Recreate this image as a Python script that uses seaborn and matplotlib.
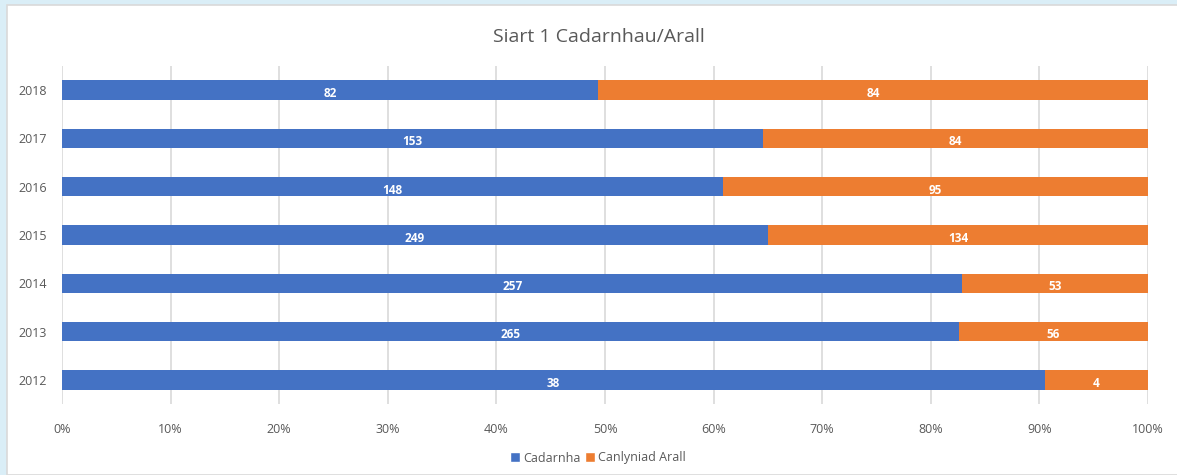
import numpy as np
import pandas as pd
import matplotlib
matplotlib.use("Agg")
import matplotlib.pyplot as plt
import seaborn as sns
from matplotlib.patches import Rectangle, Patch

years = ["2018", "2017", "2016", "2015", "2014", "2013", "2012"]
cadarnha = [82, 153, 148, 249, 257, 265, 38]
arall = [84, 84, 95, 134, 53, 56, 4]

blue = "#4472C4"
orange = "#ED7D31"
grey = "#595959"

sns.set_theme(style="white")
plt.rcParams["font.family"] = ["Open Sans", "DejaVu Sans"]

totals = np.array(cadarnha) + np.array(arall)
df = pd.DataFrame({
    "year": years,
    "cad_pct": np.array(cadarnha) / totals * 100,
    "total_pct": np.full(len(years), 100.0),
})

fig = plt.figure(figsize=(11.77, 4.75), dpi=100)
fig.patch.set_facecolor("#DAEEF7")
# white chart area
fig.add_artist(Rectangle((7 / 1177, 0), 1.0, 1 - 5 / 475, transform=fig.transFigure,
                         facecolor="white", edgecolor="#D9D9D9", linewidth=1.2, zorder=0))

ax = fig.add_axes([62 / 1177, 1 - 404 / 475, (1148 - 62) / 1177, (404 - 66) / 475])
ax.set_facecolor("none")

sns.barplot(data=df, x="total_pct", y="year", order=years, color=orange,
            width=0.4, saturation=1, linewidth=0, ax=ax, zorder=2)
sns.barplot(data=df, x="cad_pct", y="year", order=years, color=blue,
            width=0.4, saturation=1, linewidth=0, ax=ax, zorder=3)

# data labels in the middle of each segment (Excel puts them a touch low)
orange_bars = ax.containers[0]
blue_bars = ax.containers[1]
for ob, bb, c, a in zip(orange_bars, blue_bars, cadarnha, arall):
    yc = ob.get_y() + ob.get_height() / 2 + 0.07
    w = bb.get_width()
    ax.text(w / 2, yc, str(c), ha="center", va="center", color="white",
            fontsize=8.5, fontweight="bold", zorder=4)
    ax.text((w + 100) / 2, yc, str(a), ha="center", va="center", color="white",
            fontsize=8.5, fontweight="bold", zorder=4)

ax.set_xlim(0, 100)
ax.set_ylim(6.5, -0.5)
ax.set_xticks(np.arange(0, 101, 10))
ax.set_xticklabels([f"{t}%" for t in range(0, 101, 10)])
ax.xaxis.grid(True, color="#D9D9D9", linewidth=1.2, zorder=0)
ax.set_axisbelow(True)
for s in ax.spines.values():
    s.set_visible(False)
ax.tick_params(axis="both", length=0, colors=grey, labelsize=9)
ax.tick_params(axis="x", pad=14)
ax.tick_params(axis="y", pad=11)
ax.set_xlabel("")
ax.set_ylabel("")

fig.text(0.509, 1 - 37 / 475, "Siart 1 Cadarnhau/Arall", ha="center", va="center",
         fontsize=14, color=grey)

handles = [Patch(facecolor=blue, label="Cadarnha"),
           Patch(facecolor=orange, label="Canlyniad Arall")]
fig.legend(handles=handles, loc="center", bbox_to_anchor=(0.508, 1 - 458 / 475), ncol=2,
           frameon=False, fontsize=9, handlelength=0.8, handleheight=0.8,
           handletextpad=0.3, columnspacing=0.3, labelcolor=grey)

fig.savefig("out.png", dpi=100, facecolor=fig.get_facecolor())
